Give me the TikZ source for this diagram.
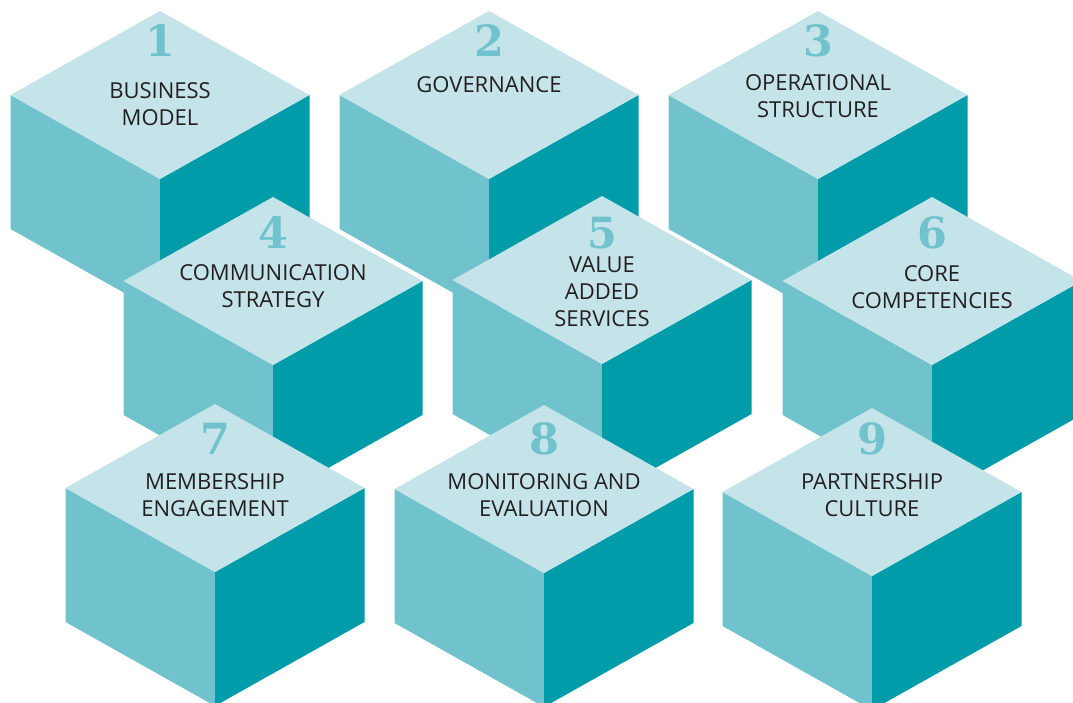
\documentclass[tikz,border=0pt]{standalone}
\usepackage{fontspec}
\setmainfont{Open Sans}
\newfontfamily\numfont{DejaVu Serif}

\definecolor{cubetop}{HTML}{C5E4E9}
\definecolor{cubeleft}{HTML}{70C3CC}
\definecolor{cuberight}{HTML}{009CA9}
\definecolor{cubetext}{HTML}{231F20}

\tikzset{
	cube label/.style  = {align=center, inner sep=0pt, text=cubetext,
	                      font=\fontsize{22}{27}\selectfont},
	cube number/.style = {inner sep=0pt, text=cubeleft,
	                      font=\numfont\bfseries\fontsize{43}{43}\selectfont}
}

\begin{document}
\begin{tikzpicture}[x=1pt, y=-1pt]

			\useasboundingbox (0,0) rectangle (1073,703);
			\clip (0,0) rectangle (1073,703);

			% n / top x / top y / number y / label y / label
			\foreach \n/\cx/\cy/\ny/\ly/\txt in {
				1/160/11/41/104.5/{BUSINESS\\MODEL},
				2/489/11/41/85/{GOVERNANCE},
				3/818/11/41/96.5/{OPERATIONAL\\STRUCTURE},
				4/273/197/233/286.5/{COMMUNICATION\\STRATEGY},
				5/602/196/233/292/{VALUE\\ADDED\\SERVICES},
				6/932/197/233/287/{CORE\\COMPETENCIES},
				7/215/404/439/495/{MEMBERSHIP\\ENGAGEMENT},
				8/544/405/439/495/{MONITORING AND\\EVALUATION},
				9/872/408/439/495.5/{PARTNERSHIP\\CULTURE}}
			{
				\coordinate (top\n) at (\cx,\cy);
				% faces
				\fill[cubeleft]  ([shift={(-149.5,84)}]top\n) -- ++(149.5,84) -- ++(0,134) -- ++(-149.5,-84) -- cycle;
				\fill[cuberight] ([shift={(0,168)}]top\n) -- ++(149.5,-84) -- ++(0,134) -- ++(-149.5,84) -- cycle;
				\fill[cubetop]   (top\n) -- ++(149.5,84) -- ++(-149.5,84) -- ++(-149.5,-84) -- cycle;
				% texts
				\node[cube number] (num\n) at (\cx,\ny) {\n};
				\node[cube label]  (lab\n) at (\cx,\ly) {\txt};
			}
		\end{tikzpicture}
\end{document}
